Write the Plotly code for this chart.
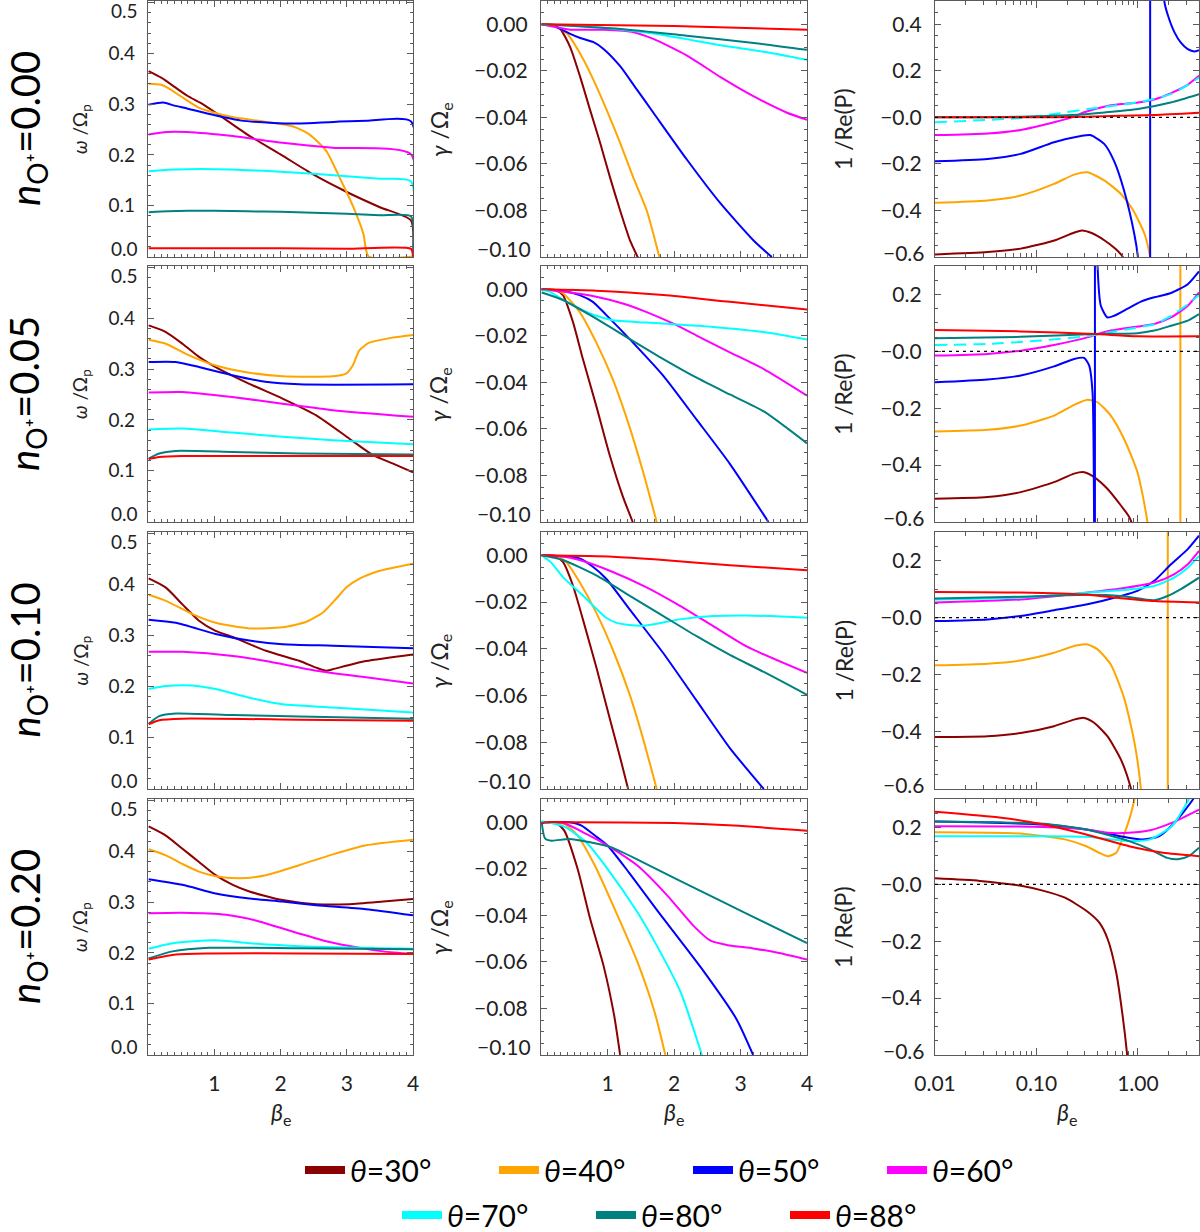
import plotly.graph_objects as go
from plotly.subplots import make_subplots

THETAS = [30, 40, 50, 60, 70, 80, 88]
COLORS = ["#8B0000", "#FFA500", "#0000FF", "#FF00FF", "#00FFFF", "#008080", "#FF0000"]
N_OPLUS = ["0.00", "0.05", "0.10", "0.20"]
THETA_LABELS = ["<i>θ</i>=%d°" % t for t in THETAS]

# ---------------- column 1 : omega / Omega_p  (beta_e linear) ----------------
OMEGA_000 = {
    30: ([0.01, 0.2, 0.4, 0.6, 0.8, 1.0, 1.5, 2.0, 2.5, 3.0, 3.5, 3.97, 4.0],
         [0.365, 0.352, 0.334, 0.316, 0.302, 0.285, 0.240, 0.201, 0.161, 0.127, 0.097, 0.071, 0.0]),
    40: ([0.01, 0.2, 0.3, 0.5, 0.78, 1.0, 1.29, 1.79, 2.19, 2.44, 2.69, 2.89, 3.1, 3.25, 3.33, 4.0],
         [0.340, 0.338, 0.332, 0.315, 0.292, 0.283, 0.274, 0.265, 0.256, 0.240, 0.208, 0.156, 0.097, 0.045, 0.0, 0.0]),
    50: ([0.01, 0.23, 0.4, 0.6, 0.98, 1.39, 1.89, 2.3, 2.8, 3.3, 3.97, 4.0],
         [0.299, 0.303, 0.297, 0.291, 0.279, 0.268, 0.263, 0.262, 0.265, 0.267, 0.266, 0.0]),
    60: ([0.01, 0.28, 0.58, 1.28, 2.03, 2.79, 3.97, 4.0],
         [0.240, 0.245, 0.245, 0.237, 0.224, 0.214, 0.201, 0.0]),
    70: ([0.01, 0.3, 0.6, 1.0, 1.5, 2.0, 2.5, 3.0, 3.5, 3.97, 4.0],
         [0.168, 0.171, 0.172, 0.172, 0.170, 0.167, 0.163, 0.158, 0.153, 0.148, 0.0]),
    80: ([0.01, 0.3, 0.6, 1.0, 1.5, 2.0, 2.5, 3.0, 3.5, 3.97, 4.0],
         [0.087, 0.089, 0.090, 0.090, 0.089, 0.088, 0.086, 0.084, 0.081, 0.079, 0.0]),
    88: ([0.01, 1.0, 2.0, 3.0, 3.97, 4.0],
         [0.016, 0.016, 0.016, 0.015, 0.015, 0.0]),
}
OMEGA_005 = {
    30: ([0.01, 0.27, 0.52, 0.77, 1.02, 1.53, 2.03, 2.54, 3.04, 3.39, 3.70, 4.0],
         [0.386, 0.373, 0.350, 0.324, 0.304, 0.271, 0.242, 0.209, 0.163, 0.131, 0.114, 0.097]),
    40: ([0.01, 0.27, 0.57, 1.02, 1.53, 2.03, 2.79, 2.99, 3.09, 3.19, 3.34, 3.65, 4.0],
         [0.358, 0.350, 0.330, 0.307, 0.293, 0.286, 0.286, 0.291, 0.307, 0.337, 0.352, 0.361, 0.367]),
    50: ([0.01, 0.42, 0.77, 1.27, 1.77, 2.28, 4.0],
         [0.314, 0.314, 0.304, 0.288, 0.275, 0.270, 0.270]),
    60: ([0.01, 0.52, 1.27, 2.03, 2.79, 4.0],
         [0.254, 0.255, 0.245, 0.232, 0.219, 0.206]),
    70: ([0.01, 0.52, 1.27, 2.03, 2.79, 4.0],
         [0.181, 0.183, 0.175, 0.167, 0.160, 0.152]),
    80: ([0.01, 0.17, 0.42, 1.27, 2.28, 4.0],
         [0.124, 0.134, 0.139, 0.137, 0.134, 0.132]),
    88: ([0.01, 0.17, 0.52, 4.0],
         [0.123, 0.127, 0.129, 0.129]),
}
OMEGA_010 = {
    30: ([0.01, 0.27, 0.52, 0.77, 1.02, 1.28, 1.78, 2.29, 2.54, 2.69, 2.79, 3.29, 4.0],
         [0.412, 0.394, 0.361, 0.329, 0.309, 0.297, 0.270, 0.250, 0.237, 0.231, 0.234, 0.250, 0.263]),
    40: ([0.01, 0.27, 0.67, 1.02, 1.53, 2.03, 2.39, 2.64, 2.84, 3.0, 3.2, 3.5, 4.0],
         [0.380, 0.368, 0.342, 0.325, 0.314, 0.316, 0.327, 0.345, 0.372, 0.395, 0.412, 0.427, 0.441]),
    50: ([0.01, 0.42, 1.02, 1.53, 2.03, 2.79, 4.0],
         [0.331, 0.325, 0.303, 0.290, 0.283, 0.280, 0.275]),
    60: ([0.01, 0.52, 1.28, 1.78, 2.54, 3.29, 4.0],
         [0.268, 0.268, 0.260, 0.250, 0.231, 0.218, 0.206]),
    70: ([0.01, 0.27, 0.67, 1.02, 1.53, 2.03, 2.79, 4.0],
         [0.195, 0.201, 0.202, 0.195, 0.178, 0.165, 0.159, 0.149]),
    80: ([0.01, 0.17, 0.42, 1.28, 2.29, 4.0],
         [0.127, 0.142, 0.147, 0.144, 0.141, 0.137]),
    88: ([0.01, 0.17, 0.52, 2.29, 4.0],
         [0.126, 0.134, 0.137, 0.135, 0.133]),
}
OMEGA_020 = {
    30: ([0.01, 0.27, 0.52, 0.77, 1.02, 1.28, 1.53, 2.03, 2.54, 3.04, 3.55, 4.0],
         [0.449, 0.431, 0.405, 0.379, 0.353, 0.334, 0.321, 0.304, 0.296, 0.296, 0.301, 0.306]),
    40: ([0.01, 0.27, 0.52, 0.77, 1.02, 1.38, 1.78, 2.29, 2.79, 3.29, 4.0],
         [0.404, 0.392, 0.375, 0.360, 0.351, 0.347, 0.353, 0.373, 0.394, 0.412, 0.423]),
    50: ([0.01, 0.52, 1.02, 1.53, 2.03, 2.54, 3.29, 4.0],
         [0.345, 0.334, 0.317, 0.307, 0.301, 0.294, 0.286, 0.274]),
    60: ([0.01, 0.52, 1.18, 1.68, 2.18, 2.69, 3.19, 3.55, 4.0],
         [0.278, 0.279, 0.275, 0.262, 0.242, 0.223, 0.210, 0.203, 0.198]),
    70: ([0.01, 0.37, 1.02, 1.53, 2.29, 4.0],
         [0.208, 0.219, 0.225, 0.219, 0.213, 0.208]),
    80: ([0.01, 0.37, 0.92, 2.29, 4.0],
         [0.189, 0.203, 0.210, 0.209, 0.207]),
    88: ([0.01, 0.42, 0.92, 2.29, 4.0],
         [0.187, 0.197, 0.199, 0.199, 0.198]),
}

# ---------------- column 2 : gamma / Omega_e ----------------
GAMMA_000 = {
    30: ([0.01, 0.19, 0.29, 0.44, 0.59, 0.74, 0.89, 1.04, 1.19, 1.34, 1.47],
         [0.0, -0.0005, -0.002, -0.0099, -0.0227, -0.037, -0.051, -0.066, -0.080, -0.093, -0.101]),
    40: ([0.01, 0.19, 0.39, 0.59, 0.79, 0.99, 1.19, 1.39, 1.59, 1.78],
         [0.0, -0.0003, -0.004, -0.0127, -0.024, -0.037, -0.051, -0.066, -0.080, -0.100]),
    50: ([0.01, 0.19, 0.29, 0.44, 0.59, 0.79, 0.94, 1.19, 1.44, 1.69, 2.19, 2.7, 3.2, 3.47],
         [0.0, -0.0006, -0.002, -0.0041, -0.0059, -0.0077, -0.0106, -0.018, -0.028, -0.038, -0.058, -0.077, -0.093, -0.100]),
    60: ([0.01, 0.29, 0.44, 0.94, 1.39, 1.69, 2.19, 2.7, 3.2, 3.7, 4.0],
         [0.0, -0.0016, -0.0023, -0.0024, -0.0034, -0.0063, -0.0134, -0.0227, -0.031, -0.038, -0.041]),
    70: ([0.01, 0.7, 1.69, 2.7, 3.4, 4.0],
         [0.0, -0.001, -0.004, -0.009, -0.012, -0.0153]),
    80: ([0.01, 1.19, 2.19, 3.2, 4.0],
         [0.0, -0.002, -0.0049, -0.008, -0.011]),
    88: ([0.01, 2.0, 4.0],
         [0.0, -0.0007, -0.0024]),
}
GAMMA_005 = {
    30: ([0.01, 0.23, 0.33, 0.48, 0.63, 0.83, 1.03, 1.23, 1.38],
         [0.0, -0.0005, -0.0025, -0.014, -0.030, -0.050, -0.071, -0.089, -0.100]),
    40: ([0.01, 0.18, 0.33, 0.58, 0.83, 1.08, 1.33, 1.53, 1.74],
         [0.0, 0.0, -0.0017, -0.0097, -0.0228, -0.0387, -0.059, -0.078, -0.100]),
    50: ([0.01, 0.33, 0.58, 0.78, 0.98, 1.33, 1.84, 2.34, 2.84, 3.42],
         [0.0, -0.0007, -0.0025, -0.0054, -0.011, -0.0213, -0.0372, -0.056, -0.075, -0.100]),
    60: ([0.01, 0.33, 0.83, 1.23, 1.58, 1.99, 2.34, 2.84, 3.35, 4.0],
         [0.0, -0.001, -0.0032, -0.0061, -0.0097, -0.0148, -0.0199, -0.0271, -0.0343, -0.0457]),
    70: ([0.01, 0.13, 0.33, 0.58, 0.83, 1.08, 1.58, 2.09, 2.59, 3.35, 4.0],
         [-0.0003, -0.001, -0.0046, -0.0083, -0.0114, -0.0133, -0.0143, -0.0152, -0.0162, -0.0184, -0.0216]),
    80: ([0.01, 0.33, 0.83, 1.33, 1.84, 2.34, 2.84, 3.35, 4.0],
         [-0.0014, -0.0046, -0.0126, -0.0213, -0.030, -0.038, -0.0452, -0.0525, -0.0662]),
    88: ([0.01, 0.83, 1.84, 2.84, 4.0],
         [0.0, -0.0006, -0.0025, -0.0054, -0.0087]),
}
GAMMA_010 = {
    30: ([0.01, 0.23, 0.33, 0.48, 0.63, 0.83, 1.03, 1.18, 1.31],
         [0.0, -0.0006, -0.0028, -0.0129, -0.0274, -0.0477, -0.0694, -0.0854, -0.100]),
    40: ([0.01, 0.23, 0.38, 0.58, 0.83, 1.08, 1.33, 1.53, 1.74],
         [0.0, -0.0003, -0.0028, -0.0114, -0.0245, -0.0404, -0.0593, -0.078, -0.100]),
    50: ([0.01, 0.58, 0.78, 0.98, 1.33, 1.84, 2.34, 2.84, 3.35],
         [0.0, -0.0013, -0.0049, -0.010, -0.023, -0.0419, -0.0622, -0.0825, -0.100]),
    60: ([0.01, 0.3, 0.58, 1.08, 1.58, 2.09, 2.59, 3.09, 4.0],
         [0.0, -0.0004, -0.002, -0.0071, -0.0136, -0.0216, -0.0303, -0.039, -0.0503]),
    70: ([0.01, 0.15, 0.33, 0.63, 0.98, 1.13, 1.33, 1.58, 2.09, 2.59, 3.09, 4.0],
         [0.0, -0.003, -0.0093, -0.0172, -0.0267, -0.0288, -0.0298, -0.030, -0.0274, -0.026, -0.0257, -0.0267]),
    80: ([0.01, 0.33, 0.83, 1.33, 1.84, 2.34, 2.84, 3.35, 4.0],
         [0.0, -0.002, -0.0086, -0.0172, -0.026, -0.0346, -0.0426, -0.0499, -0.0597]),
    88: ([0.01, 1.08, 1.84, 2.84, 4.0],
         [0.0, -0.0006, -0.002, -0.0042, -0.0064]),
}
GAMMA_020 = {
    30: ([0.01, 0.23, 0.35, 0.55, 0.74, 0.94, 1.10, 1.19],
         [0.0, -0.0003, -0.0036, -0.020, -0.0416, -0.0616, -0.083, -0.100]),
    40: ([0.01, 0.35, 0.55, 0.81, 1.13, 1.45, 1.71, 1.87],
         [0.0, -0.0007, -0.0057, -0.0186, -0.0387, -0.060, -0.0817, -0.100]),
    50: ([0.01, 0.42, 0.61, 0.81, 1.0, 1.32, 1.77, 2.42, 2.94, 3.19],
         [0.0, 0.0, -0.0014, -0.0057, -0.010, -0.0215, -0.0387, -0.063, -0.0846, -0.100]),
    60: ([0.01, 0.35, 0.68, 1.0, 1.45, 1.9, 2.29, 2.55, 2.81, 3.19, 3.58, 4.0],
         [0.0, -0.0004, -0.005, -0.010, -0.0186, -0.0315, -0.0444, -0.0509, -0.0528, -0.0542, -0.0562, -0.059]),
    70: ([0.01, 0.35, 0.68, 1.0, 1.45, 1.77, 2.1, 2.42],
         [0.0004, -0.0019, -0.0086, -0.020, -0.0387, -0.0545, -0.073, -0.100]),
    80: ([0.01, 0.06, 0.16, 0.42, 0.74, 1.06, 1.52, 1.97, 2.42, 3.06, 4.0],
         [0.0, -0.0069, -0.0079, -0.0072, -0.0086, -0.0108, -0.017, -0.0235, -0.0298, -0.0388, -0.0519]),
    88: ([0.01, 0.06, 0.5, 2.0, 2.9, 4.0],
         [-0.0007, 0.0, 0.0, -0.0003, -0.0014, -0.0036]),
}

# ---------------- column 3 : 1 / Re(P)  (beta_e log) ----------------
# None breaks the curve at the resonances (1/Re(P) jumps from -inf to +inf)
INVP_000 = {
    30: ([0.01, 0.033, 0.07, 0.15, 0.22, 0.28, 0.35, 0.47, 0.6, 0.71, 0.85, 1.2],
         [-0.589, -0.579, -0.564, -0.529, -0.500, -0.486, -0.497, -0.529, -0.565, -0.600, -0.700, -1.2]),
    40: ([0.01, 0.033, 0.07, 0.149, 0.235, 0.318, 0.465, 0.68, 0.88, 1.16, 1.32, 1.6],
         [-0.367, -0.357, -0.336, -0.286, -0.246, -0.236, -0.271, -0.329, -0.393, -0.500, -0.600, -0.9]),
    50: ([0.01, 0.033, 0.07, 0.149, 0.274, 0.34, 0.465, 0.58, 0.73, 0.92, 1.0, 1.1, 1.25, None,
          1.32, 1.32, None, 1.6, 1.82, 1.96, 2.3, 2.65, 3.1, 3.6, 4.0],
         [-0.189, -0.179, -0.157, -0.107, -0.080, -0.076, -0.114, -0.186, -0.314, -0.500, -0.600, -0.9, -2.0, None,
          -40.0, 40.0, None, 3.0, 0.5, 0.443, 0.364, 0.321, 0.293, 0.283, 0.289]),
    60: ([0.01, 0.033, 0.07, 0.149, 0.235, 0.29, 0.465, 0.68, 1.0, 1.5, 2.1, 3.0, 4.0],
         [-0.076, -0.069, -0.054, -0.021, 0.003, 0.021, 0.046, 0.057, 0.064, 0.079, 0.103, 0.136, 0.179]),
    70: ([0.01, 0.033, 0.07, 0.149, 0.32, 0.68, 1.2, 2.1, 3.0, 4.0],
         [-0.021, -0.011, -0.003, 0.014, 0.036, 0.054, 0.071, 0.100, 0.135, 0.171]),
    80: ([0.01, 0.07, 0.25, 0.47, 1.0, 2.1, 4.0],
         [0.0, 0.003, 0.011, 0.021, 0.036, 0.064, 0.100]),
    88: ([0.01, 0.15, 0.68, 1.45, 4.0],
         [0.0, 0.0, 0.007, 0.010, 0.020]),
}
INVP_005 = {
    30: ([0.01, 0.033, 0.07, 0.149, 0.235, 0.295, 0.37, 0.50, 0.68, 0.82, 0.9, 1.2],
         [-0.518, -0.512, -0.495, -0.460, -0.430, -0.425, -0.442, -0.483, -0.542, -0.582, -0.62, -0.9]),
    40: ([0.01, 0.033, 0.07, 0.149, 0.235, 0.318, 0.40, 0.54, 0.73, 0.99, 1.24, 1.5, None, 2.62, 2.62],
         [-0.282, -0.276, -0.261, -0.226, -0.188, -0.170, -0.179, -0.226, -0.308, -0.425, -0.600, -1.0, None, -40.0, 40.0]),
    50: ([0.01, 0.033, 0.07, 0.149, 0.235, 0.295, 0.331, 0.357, 0.37, 0.375, None, 0.377, 0.377, None,
          0.385, 0.40, 0.431, 0.50, 0.583, 0.79, 1.07, 1.45, 2.12, 3.1, 4.0],
         [-0.109, -0.099, -0.085, -0.053, -0.027, -0.023, -0.050, -0.144, -0.600, -2.0, None, -40.0, 40.0, None,
          1.5, 0.30, 0.16, 0.119, 0.125, 0.150, 0.175, 0.190, 0.205, 0.236, 0.281]),
    60: ([0.01, 0.033, 0.07, 0.149, 0.318, 0.40, 0.54, 0.99, 1.45, 2.12, 3.1, 4.0],
         [-0.015, -0.009, 0.002, 0.022, 0.049, 0.061, 0.073, 0.087, 0.096, 0.119, 0.160, 0.207]),
    70: ([0.01, 0.033, 0.102, 0.318, 0.465, 0.99, 1.45, 2.12, 3.1, 4.0],
         [0.022, 0.026, 0.037, 0.053, 0.064, 0.084, 0.095, 0.125, 0.165, 0.198]),
    80: ([0.01, 0.07, 0.37, 0.99, 1.45, 2.12, 3.1, 4.0],
         [0.046, 0.051, 0.061, 0.064, 0.073, 0.090, 0.108, 0.131]),
    88: ([0.01, 0.07, 0.37, 0.99, 4.0],
         [0.075, 0.070, 0.061, 0.053, 0.053]),
}
INVP_010 = {
    30: ([0.01, 0.033, 0.07, 0.149, 0.235, 0.295, 0.37, 0.50, 0.68, 0.85, 1.0, 1.3],
         [-0.418, -0.415, -0.404, -0.380, -0.357, -0.351, -0.368, -0.415, -0.497, -0.596, -0.72, -1.1]),
    40: ([0.01, 0.033, 0.07, 0.149, 0.235, 0.318, 0.40, 0.54, 0.73, 0.92, 1.07, 1.3, None, 1.97, 1.97],
         [-0.167, -0.161, -0.150, -0.123, -0.099, -0.094, -0.111, -0.164, -0.281, -0.433, -0.600, -1.2, None, -40.0, 40.0]),
    50: ([0.01, 0.033, 0.07, 0.149, 0.318, 0.68, 0.99, 1.45, 2.12, 3.1, 4.0],
         [-0.012, -0.006, 0.006, 0.026, 0.047, 0.076, 0.094, 0.129, 0.187, 0.240, 0.287]),
    60: ([0.01, 0.07, 0.318, 0.68, 1.45, 2.27, 3.1, 4.0],
         [0.053, 0.064, 0.088, 0.102, 0.123, 0.152, 0.187, 0.234]),
    70: ([0.01, 0.07, 0.318, 0.68, 1.45, 2.27, 3.1, 4.0],
         [0.064, 0.070, 0.088, 0.096, 0.111, 0.140, 0.175, 0.216]),
    80: ([0.01, 0.07, 0.318, 0.68, 1.45, 1.96, 2.65, 4.0],
         [0.067, 0.073, 0.080, 0.076, 0.061, 0.076, 0.100, 0.140]),
    88: ([0.01, 0.07, 0.318, 0.68, 1.45, 4.0],
         [0.090, 0.088, 0.080, 0.068, 0.058, 0.053]),
}
INVP_020 = {
    30: ([0.01, 0.0276, 0.0727, 0.118, 0.191, 0.31, 0.415, 0.504, 0.611, 0.706, 0.778, 0.85],
         [0.021, 0.012, -0.006, -0.023, -0.047, -0.093, -0.134, -0.193, -0.310, -0.461, -0.590, -0.75]),
    40: ([0.01, 0.0727, 0.191, 0.31, 0.415, 0.504, 0.611, 0.741, 0.857, 0.925, 1.1],
         [0.183, 0.178, 0.158, 0.134, 0.111, 0.099, 0.111, 0.181, 0.251, 0.300, 0.45]),
    50: ([0.01, 0.118, 0.31, 0.673, 1.09, 1.61, 2.37, 3.48, 4.0],
         [0.221, 0.210, 0.193, 0.169, 0.158, 0.169, 0.222, 0.298, 0.34]),
    60: ([0.01, 0.118, 0.31, 0.504, 0.817, 1.32, 2.15, 4.0],
         [0.204, 0.202, 0.193, 0.181, 0.181, 0.190, 0.216, 0.263]),
    70: ([0.01, 0.118, 0.31, 0.817, 1.32, 2.15, 3.16, 4.0],
         [0.169, 0.169, 0.167, 0.152, 0.158, 0.204, 0.298, 0.38]),
    80: ([0.01, 0.045, 0.118, 0.31, 0.817, 1.32, 1.95, 2.48, 3.16, 4.0],
         [0.221, 0.218, 0.213, 0.193, 0.152, 0.123, 0.093, 0.088, 0.099, 0.129]),
    88: ([0.01, 0.045, 0.118, 0.31, 0.817, 1.77, 4.0],
         [0.255, 0.234, 0.210, 0.175, 0.134, 0.111, 0.099]),
}

PANELS = [
    [OMEGA_000, GAMMA_000, INVP_000],
    [OMEGA_005, GAMMA_005, INVP_005],
    [OMEGA_010, GAMMA_010, INVP_010],
    [OMEGA_020, GAMMA_020, INVP_020],
]
# (row, theta) whose 1/Re(P) curve is drawn dashed
DASHED_INVP = [(0, 70), (1, 70)]

# ---------------- layout geometry (pixels) ----------------
W, H = 1200, 1232
COL_PX = [(148, 413), (541, 807), (935, 1199)]
ROW_PX = [(1, 257), (266, 522), (532, 789), (799, 1055)]
AX = "#5a5a5a"
TXT = "#222222"
FONT = "Lato, 'Open Sans', sans-serif"

fig = make_subplots(rows=4, cols=3)

for r in range(4):
    for c in range(3):
        panel = PANELS[r][c]
        for k, th in enumerate(THETAS):
            xs, ys = panel[th]
            dashed = (c == 2 and (r, th) in DASHED_INVP)
            fig.add_trace(
                go.Scatter(
                    x=xs, y=ys, mode="lines",
                    line=dict(color=COLORS[k], width=2,
                              dash="12px,7px" if dashed else "solid",
                              shape="spline", smoothing=0.6),
                    connectgaps=False, showlegend=False, hoverinfo="skip",
                ),
                row=r + 1, col=c + 1,
            )

# legend entries (thick swatches), split into two rows like the original
for k, th in enumerate(THETAS):
    fig.add_trace(go.Scatter(
        x=[None], y=[None], mode="lines",
        line=dict(color=COLORS[k], width=8),
        name=THETA_LABELS[k], showlegend=True,
        legend="legend" if k < 4 else "legend2",
    ), row=1, col=1)

Y_RANGES = [(-0.001, 0.503), (-0.10, 0.01), None]
INVP_RANGES = [(-0.6, 0.5), (-0.6, 0.3), (-0.6, 0.3), (-0.6, 0.3)]
# tick values, tick labels, minor step, font size, {edge value: (label, shift px)}
Y_TICKS = [
    ([0, 0.1, 0.2, 0.3, 0.4, 0.5], ["", "0.1", "0.2", "0.3", "0.4", ""], 0.02, 19,
     {0.0: ("0.0", 8), 0.5: ("0.5", -8)}),
    ([0, -0.02, -0.04, -0.06, -0.08, -0.10],
     ["0.00", "−0.02", "−0.04", "−0.06", "−0.08", ""], 0.005, 21,
     {-0.10: ("−0.10", 9)}),
    ([-0.6, -0.4, -0.2, 0, 0.2, 0.4], ["", "−0.4", "−0.2", "−0.0", "0.2", "0.4"], 0.05, 21,
     {-0.6: ("−0.6", 5)}),
]

layout_upd = {}
shapes = []
annotations = []
for r in range(4):
    for c in range(3):
        idx = r * 3 + c + 1
        sfx = "" if idx == 1 else str(idx)
        x0, x1 = COL_PX[c]
        t0, t1 = ROW_PX[r]
        common = dict(showline=True, mirror="ticks", linecolor=AX, linewidth=1.3,
                      ticks="inside", tickcolor=AX, tickwidth=1.2, showgrid=False,
                      zeroline=False, automargin=False)
        xa = dict(common, domain=[x0 / W, x1 / W], showticklabels=(r == 3),
                  tickfont=dict(size=21, color=TXT, family=FONT), ticklabelstandoff=10)
        if c < 2:
            xa.update(range=[0, 4], tickmode="array", tickvals=[1, 2, 3, 4],
                      ticktext=["1", "2", "3", "4"], ticklen=6,
                      minor=dict(ticks="inside", ticklen=3, tickcolor=AX,
                                 tickmode="linear", tick0=0, dtick=0.1))
        else:
            xa.update(type="log", range=[-2, 0.60206], tickmode="array",
                      tickvals=[0.01, 0.1, 1.0], ticktext=["0.01", "0.10", "1.00"], ticklen=7,
                      minor=dict(ticks="inside", ticklen=3.5, tickcolor=AX, dtick="D1"))
        tv, tt, mdt, fs, edges = Y_TICKS[c]
        yrng = INVP_RANGES[r] if c == 2 else Y_RANGES[c]
        ya = dict(common, domain=[1 - t1 / H, 1 - t0 / H], range=list(yrng),
                  tickmode="array", tickvals=tv, ticktext=tt, ticklen=6,
                  tickfont=dict(size=fs, color=TXT, family=FONT), ticklabelstandoff=8,
                  minor=dict(ticks="inside", ticklen=3, tickcolor=AX,
                             tickmode="linear", tick0=0, dtick=mdt))
        layout_upd["xaxis" + sfx] = xa
        layout_upd["yaxis" + sfx] = ya
        # labels of ticks lying on the panel edges, nudged inside like the original
        for val, (lab, shift) in edges.items():
            annotations.append(dict(text=lab, x=(x0 - 8) / W, y=val, xref="paper",
                                    yref="y" + sfx, xanchor="right", yanchor="middle",
                                    yshift=shift, showarrow=False,
                                    font=dict(size=fs, color=TXT, family=FONT)))
        if c == 2:
            shapes.append(dict(type="line", xref="x%s domain" % sfx, x0=0, x1=1,
                               yref="y%s" % sfx, y0=0, y1=0, layer="above",
                               line=dict(color="black", width=1.4, dash="3px,4px")))

Y_TITLES = [("<i>ω</i> /Ω<sub>p</sub>", 81, 19), ("<i>γ</i> /Ω<sub>e</sub>", 440, 23),
            ("1 /Re(P)", 843, 23)]
for r in range(4):
    t0, t1 = ROW_PX[r]
    yc = 1 - (t0 + t1) / 2 / H
    for text, xpx, fs in Y_TITLES:
        annotations.append(dict(text=text, x=xpx / W, y=yc, xref="paper", yref="paper",
                                textangle=-90, showarrow=False, xanchor="center",
                                yanchor="middle", font=dict(size=fs, color=TXT, family=FONT)))
    annotations.append(dict(text="<i>n</i><sub>O⁺</sub>=" + N_OPLUS[r], x=27 / W, y=yc,
                            xref="paper", yref="paper", textangle=-90, showarrow=False,
                            xanchor="center", yanchor="middle",
                            font=dict(size=40, color="black", family=FONT)))
for c in range(3):
    x0, x1 = COL_PX[c]
    annotations.append(dict(text="<i>β</i><sub>e</sub>", x=(x0 + x1) / 2 / W, y=1 - 1113 / H,
                            xref="paper", yref="paper", showarrow=False, xanchor="center",
                            yanchor="middle", font=dict(size=23, color=TXT, family=FONT)))

leg_common = dict(orientation="h", xanchor="center", yanchor="middle", x=688 / W,
                  font=dict(size=30, color="black", family=FONT), bgcolor="rgba(0,0,0,0)",
                  entrywidth=139, entrywidthmode="pixels", itemwidth=40, tracegroupgap=0)
layout_upd["legend"] = dict(leg_common, y=1 - 1170 / H)
layout_upd["legend2"] = dict(leg_common, y=1 - 1215 / H)

fig.update_layout(**layout_upd)
fig.update_layout(width=W, height=H, margin=dict(l=0, r=0, t=0, b=0, autoexpand=False),
                  plot_bgcolor="white", paper_bgcolor="white",
                  font=dict(family=FONT, color=TXT),
                  annotations=annotations, shapes=shapes)

fig.write_html(
    "out.html",
    config={"displayModeBar": False},
    post_script="document.body.style.margin='0px';document.body.style.overflow='hidden';",
)
